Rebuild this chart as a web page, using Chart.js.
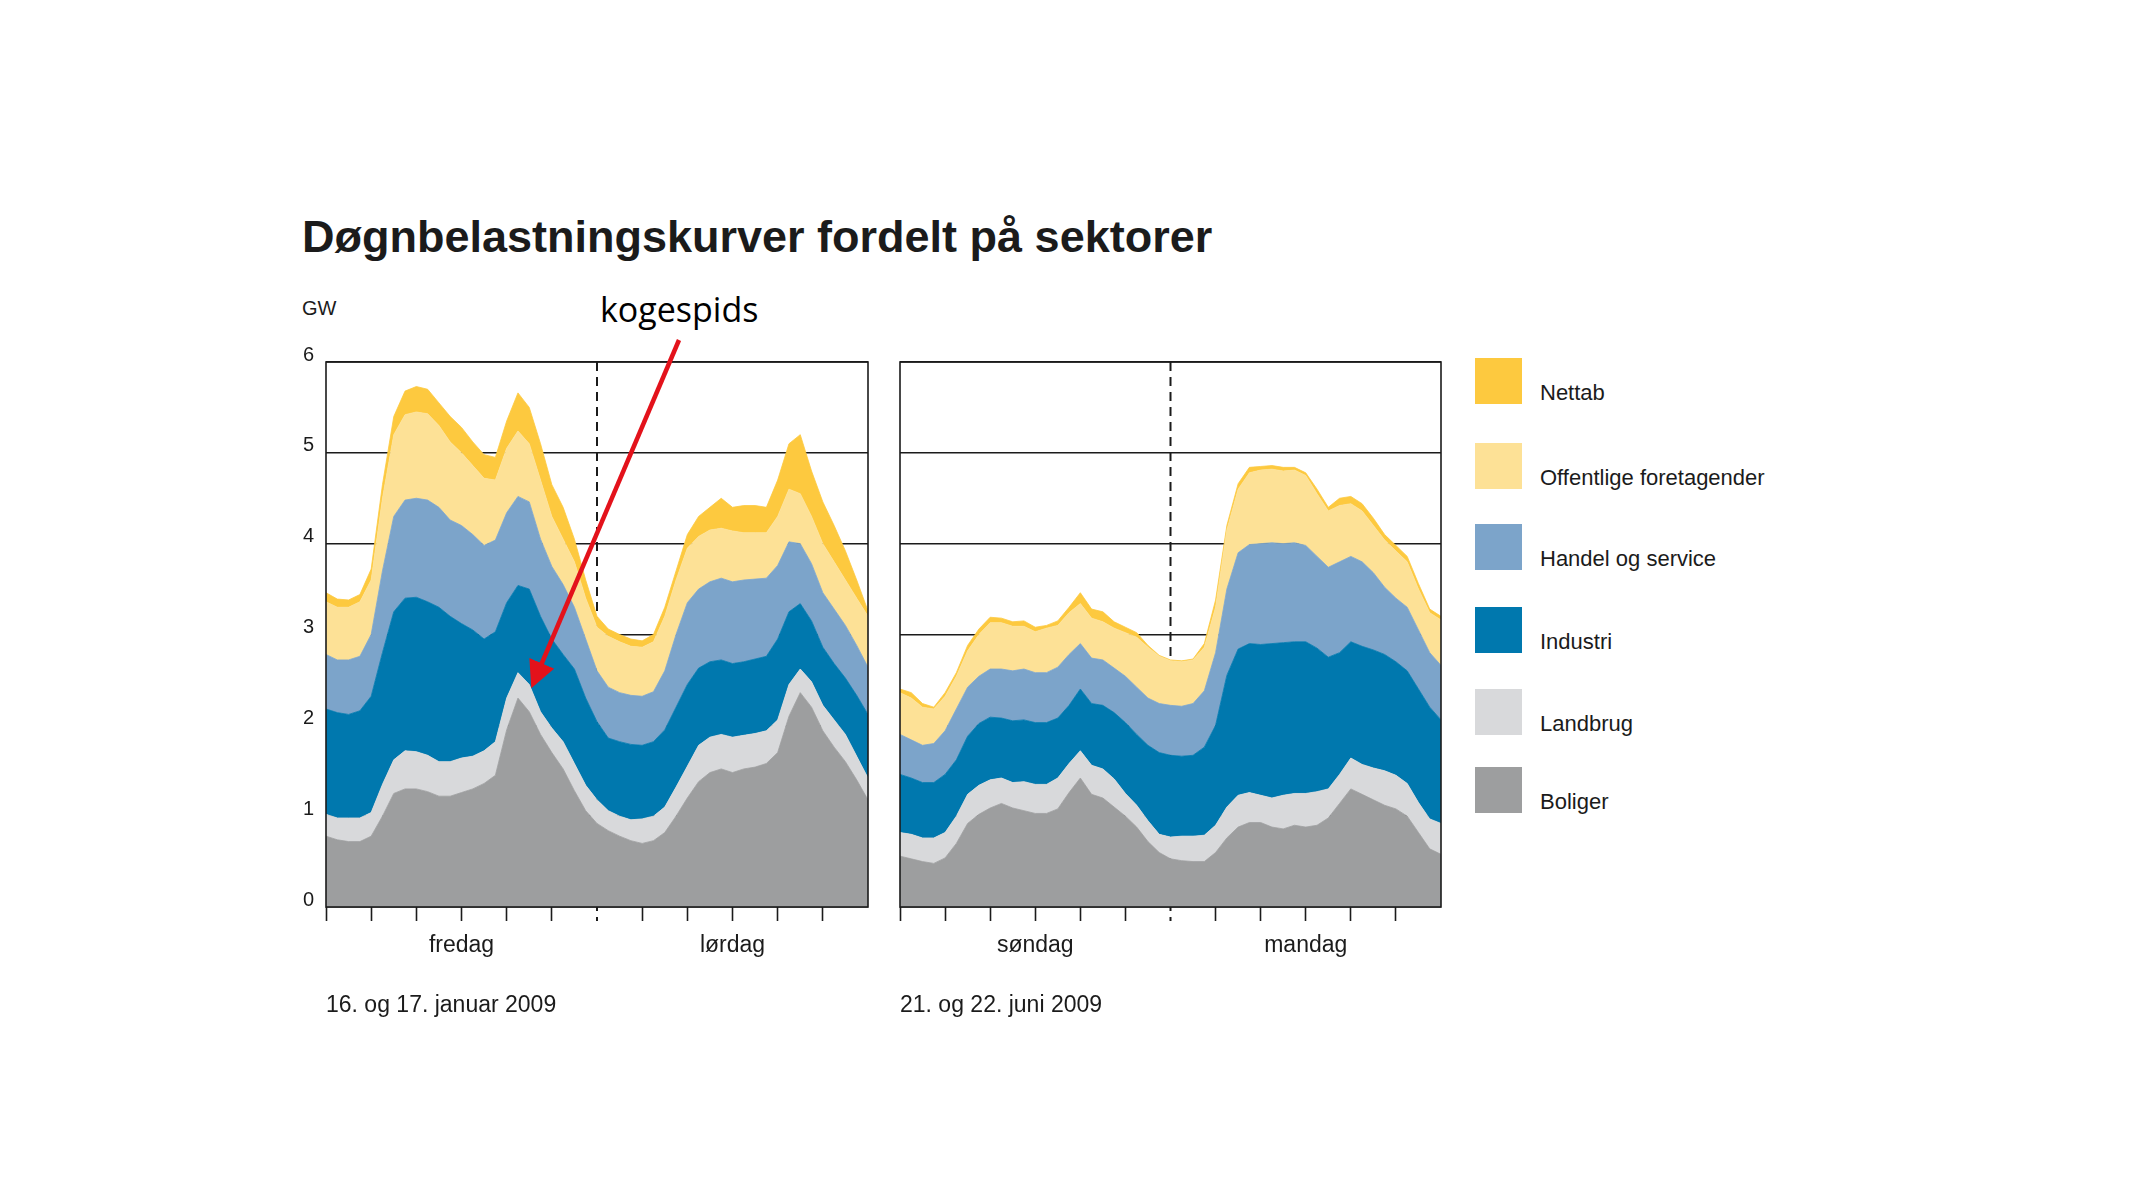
<!DOCTYPE html>
<html lang="da">
<head>
<meta charset="utf-8">
<title>Døgnbelastningskurver fordelt på sektorer</title>
<script src="https://cdn.jsdelivr.net/npm/chart.js@4/dist/chart.umd.min.js"></script>
<style>
  html, body { margin: 0; padding: 0; background: #fff; }
  body { width: 2133px; height: 1200px; position: relative; overflow: hidden;
         font-family: "Liberation Sans", Arial, sans-serif; color: #1b1b1b; }
  .abs { position: absolute; }
  #title { left: 302px; top: 211px; font-size: 45px; font-weight: bold; white-space: nowrap; }
  #unit { left: 302px; top: 297px; font-size: 20px; }
  #note { left: 600px; top: 286px; font-family: "Open Sans", sans-serif; font-size: 34px; color: #000; }
  .box { position: absolute; left: 1475px; width: 47px; height: 46px; }
  .lab { position: absolute; left: 1540px; font-size: 22px; white-space: nowrap; line-height: 26px; }
  canvas { position: absolute; }
</style>
</head>
<body>
<div id="title" class="abs">Døgnbelastningskurver fordelt på sektorer</div>
<div id="unit" class="abs">GW</div>
<div id="note" class="abs">kogespids</div>

<canvas id="winter" width="630" height="700" style="left:260px;top:340px;width:630px;height:700px"></canvas>
<canvas id="summer" width="580" height="700" style="left:880px;top:340px;width:580px;height:700px"></canvas>

<div id="legend"></div>

<svg class="abs" style="left:0;top:0" width="2133" height="1200">
  <defs>
    <marker id="head" markerWidth="6" markerHeight="6" refX="5" refY="3" orient="auto" markerUnits="strokeWidth">
      <path d="M0,0 L6,3 L0,6 Z" fill="#e3121b"/>
    </marker>
  </defs>
  <line x1="679" y1="340" x2="533" y2="684" stroke="#e3121b" stroke-width="4.5" marker-end="url(#head)"/>
</svg>

<script>
// hours across the two days shown in each panel
const hours = [0,1,2,3,4,5,6,7,8,9,10,11,12,13,14,15,16,17,18,19,20,21,22,23,24,
  25,26,27,28,29,30,31,32,33,34,35,36,37,38,39,40,41,42,43,44,45,46,47,48];

const sectors = ['Boliger', 'Landbrug', 'Industri', 'Handel og service', 'Offentlige foretagender', 'Nettab'];
const colors = ['#9d9e9f', '#d8d9db', '#0078ae', '#7ca4ca', '#fde196', '#fdc93f'];

// 16. og 17. januar 2009 (GW)
const boligerW = [0.78,0.74,0.72,0.72,0.78,1.00,1.25,1.30,1.30,1.27,1.22,1.22,1.26,1.30,1.36,1.45,1.95,2.30,2.15,1.90,
  1.70,1.52,1.28,1.06,0.92,0.84,0.78,0.73,0.70,0.73,0.82,1.00,1.20,1.38,1.48,1.52,1.48,1.52,1.54,1.58,
  1.70,2.10,2.36,2.20,1.94,1.76,1.60,1.40,1.18];
const landbrugW = [0.24,0.24,0.26,0.26,0.26,0.35,0.37,0.42,0.41,0.40,0.38,0.38,0.38,0.36,0.36,0.37,0.35,0.28,0.30,0.25,
  0.27,0.30,0.30,0.28,0.26,0.22,0.22,0.23,0.27,0.27,0.28,0.32,0.35,0.40,0.39,0.38,0.39,0.37,0.37,0.36,
  0.36,0.35,0.26,0.28,0.28,0.30,0.30,0.26,0.24];
const industriW = [1.16,1.16,1.14,1.18,1.28,1.45,1.63,1.68,1.70,1.69,1.70,1.60,1.48,1.39,1.23,1.21,1.05,0.96,1.05,1.05,
  0.98,0.96,1.04,0.96,0.86,0.80,0.82,0.83,0.81,0.82,0.85,0.88,0.90,0.85,0.83,0.82,0.81,0.81,0.82,0.82,
  0.89,0.80,0.72,0.67,0.64,0.62,0.62,0.67,0.70];
const handelW = [0.60,0.58,0.60,0.60,0.68,0.90,1.05,1.08,1.09,1.12,1.10,1.06,1.08,1.05,1.03,1.01,0.99,0.98,0.96,0.85,
  0.80,0.77,0.68,0.65,0.56,0.56,0.54,0.54,0.54,0.55,0.65,0.80,0.90,0.87,0.88,0.90,0.90,0.90,0.88,0.86,
  0.81,0.77,0.66,0.63,0.60,0.60,0.58,0.55,0.52];
const offentligeW = [0.58,0.58,0.58,0.60,0.60,0.80,0.90,0.94,0.95,0.95,0.90,0.86,0.80,0.76,0.74,0.66,0.71,0.72,0.64,0.65,
  0.55,0.50,0.50,0.45,0.48,0.56,0.56,0.54,0.54,0.55,0.60,0.60,0.60,0.58,0.57,0.55,0.56,0.52,0.51,0.50,
  0.54,0.58,0.55,0.52,0.54,0.52,0.50,0.52,0.56];
const nettabW = [0.10,0.09,0.08,0.08,0.12,0.15,0.20,0.26,0.28,0.27,0.25,0.28,0.28,0.26,0.26,0.25,0.30,0.42,0.40,0.40,
  0.35,0.35,0.25,0.20,0.12,0.08,0.08,0.08,0.07,0.08,0.10,0.10,0.15,0.22,0.25,0.33,0.26,0.30,0.30,0.28,
  0.40,0.50,0.65,0.50,0.46,0.40,0.32,0.20,0.06];

// 21. og 22. juni 2009 (GW)
const boligerS = [0.56,0.53,0.50,0.48,0.54,0.70,0.92,1.02,1.09,1.14,1.09,1.06,1.03,1.03,1.08,1.26,1.42,1.24,1.20,1.10,
  1.00,0.88,0.72,0.60,0.53,0.51,0.50,0.50,0.60,0.76,0.88,0.93,0.93,0.88,0.86,0.90,0.88,0.90,0.98,1.14,
  1.30,1.24,1.18,1.12,1.08,1.00,0.82,0.64,0.58];
const landbrugS = [0.26,0.27,0.26,0.28,0.28,0.30,0.32,0.32,0.31,0.28,0.28,0.32,0.32,0.32,0.34,0.32,0.30,0.32,0.32,0.31,
  0.25,0.24,0.23,0.20,0.24,0.27,0.28,0.29,0.30,0.34,0.35,0.33,0.30,0.32,0.37,0.35,0.37,0.37,0.32,0.32,
  0.34,0.33,0.35,0.38,0.37,0.36,0.33,0.33,0.34];
const industriS = [0.64,0.62,0.61,0.61,0.64,0.62,0.64,0.68,0.69,0.66,0.68,0.68,0.68,0.68,0.66,0.64,0.68,0.68,0.70,0.73,
  0.78,0.78,0.83,0.90,0.90,0.88,0.89,0.97,1.10,1.45,1.61,1.64,1.66,1.70,1.68,1.67,1.67,1.58,1.45,1.34,
  1.28,1.30,1.30,1.28,1.25,1.24,1.25,1.23,1.14];
const handelS = [0.44,0.42,0.41,0.43,0.48,0.56,0.54,0.52,0.53,0.54,0.55,0.56,0.55,0.55,0.56,0.56,0.50,0.50,0.50,0.49,
  0.51,0.52,0.52,0.54,0.55,0.55,0.57,0.62,0.80,0.95,1.06,1.09,1.11,1.11,1.09,1.09,1.06,1.01,0.99,1.00,
  0.94,0.93,0.85,0.74,0.70,0.70,0.65,0.60,0.60];
const offentligeS = [0.46,0.46,0.42,0.38,0.38,0.36,0.40,0.46,0.51,0.51,0.49,0.47,0.45,0.49,0.46,0.46,0.44,0.44,0.42,0.44,
  0.48,0.55,0.56,0.52,0.49,0.49,0.48,0.48,0.50,0.65,0.70,0.79,0.81,0.81,0.80,0.80,0.77,0.69,0.62,0.62,
  0.58,0.56,0.52,0.52,0.52,0.50,0.45,0.44,0.50];
const nettabS = [0.04,0.06,0.04,0.02,0.04,0.04,0.06,0.06,0.06,0.05,0.05,0.06,0.05,0.03,0.05,0.06,0.12,0.10,0.11,0.07,
  0.06,0.05,0.02,0.01,0.01,0.01,0.01,0.04,0.08,0.05,0.06,0.06,0.04,0.04,0.04,0.03,0.03,0.05,0.04,0.08,
  0.08,0.08,0.08,0.06,0.06,0.06,0.06,0.04,0.04];

const yTicks = [0, 1, 2, 3, 4, 5, 6];
const winterDays = ['fredag', 'lørdag'];
const summerDays = ['søndag', 'mandag'];
const winterTitle = '16. og 17. januar 2009';
const summerTitle = '21. og 22. juni 2009';

// legend, top entry first
const legendEl = document.getElementById('legend');
const legendTops = [358, 443, 524, 607, 689, 767];
for (let i = 0; i < sectors.length; i++) {
  const k = sectors.length - 1 - i;
  const box = document.createElement('div');
  box.className = 'box';
  box.style.top = legendTops[i] + 'px';
  box.style.background = colors[k];
  const lab = document.createElement('div');
  lab.className = 'lab';
  lab.style.top = (legendTops[i] + 22) + 'px';
  lab.textContent = sectors[k];
  legendEl.appendChild(box);
  legendEl.appendChild(lab);
}

// frame round the plot and the dashed midnight line
const framePlugin = {
  id: 'frame',
  beforeDatasetsDraw(chart) {
    const { ctx, chartArea: a, scales: { x } } = chart;
    const mx = x.getPixelForValue(24);
    ctx.save();
    ctx.strokeStyle = '#1b1b1b';
    ctx.lineWidth = 2;
    ctx.setLineDash([9, 6]);
    ctx.beginPath();
    ctx.moveTo(mx, a.top);
    ctx.lineTo(mx, a.bottom + 14);
    ctx.stroke();
    ctx.restore();
  },
  afterDatasetsDraw(chart) {
    const { ctx, chartArea: a } = chart;
    ctx.save();
    ctx.strokeStyle = '#1b1b1b';
    ctx.lineWidth = 1.6;
    ctx.strokeRect(a.left, a.top, a.right - a.left, a.bottom - a.top);
    ctx.restore();
  }
};

function makeSets(series) {
  return series.map((vals, i) => ({
    label: sectors[i],
    data: vals,
    backgroundColor: colors[i],
    borderColor: colors[i],
    borderWidth: 0.8,
    pointRadius: 0,
    tension: 0,
    fill: i === 0 ? 'origin' : '-1'
  }));
}

function makeChart(id, series, days, title, yWidth, showY, padRight) {
  return new Chart(document.getElementById(id), {
    type: 'line',
    data: { labels: hours, datasets: makeSets(series) },
    options: {
      responsive: false,
      animation: false,
      devicePixelRatio: 1,
      layout: { autoPadding: false, padding: { top: 22, right: padRight, left: 0, bottom: 0 } },
      plugins: { legend: { display: false }, tooltip: { enabled: false } },
      scales: {
        x: {
          type: 'linear',
          min: 0, max: 48,
          afterFit: (s) => { s.height = 133; },
          grid: {
            drawOnChartArea: false,
            tickLength: 14,
            tickWidth: 1.6,
            tickColor: (c) => (c.tick && (c.tick.value === 24 || c.tick.value === 48)) ? 'rgba(0,0,0,0)' : '#1b1b1b'
          },
          border: { display: false },
          ticks: {
            stepSize: 4,
            autoSkip: false,
            maxRotation: 0,
            padding: 11,
            color: '#1b1b1b',
            font: { family: 'Liberation Sans', size: 23 },
            callback: (v) => v === 12 ? days[0] : (v === 36 ? days[1] : '')
          },
          title: {
            display: true,
            text: title,
            align: 'start',
            color: '#1b1b1b',
            font: { family: 'Liberation Sans', size: 23 },
            padding: { top: 0, bottom: 21 }
          }
        },
        y: {
          stacked: true,
          min: 0, max: 6,
          afterFit: (s) => { s.width = yWidth; },
          afterBuildTicks: (s) => { s.ticks = yTicks.map(v => ({ value: v })); },
          grid: { color: '#1b1b1b', lineWidth: 1.6, drawTicks: false },
          border: { display: false },
          ticks: {
            display: showY,
            padding: 12,
            labelOffset: -7,
            color: '#1b1b1b',
            font: { family: 'Liberation Sans', size: 20, lineHeight: 1 }
          }
        }
      }
    },
    plugins: [framePlugin]
  });
}

makeChart('winter', [boligerW, landbrugW, industriW, handelW, offentligeW, nettabW], winterDays, winterTitle, 66, true, 22);
makeChart('summer', [boligerS, landbrugS, industriS, handelS, offentligeS, nettabS], summerDays, summerTitle, 20, false, 19);
</script>
</body>
</html>
